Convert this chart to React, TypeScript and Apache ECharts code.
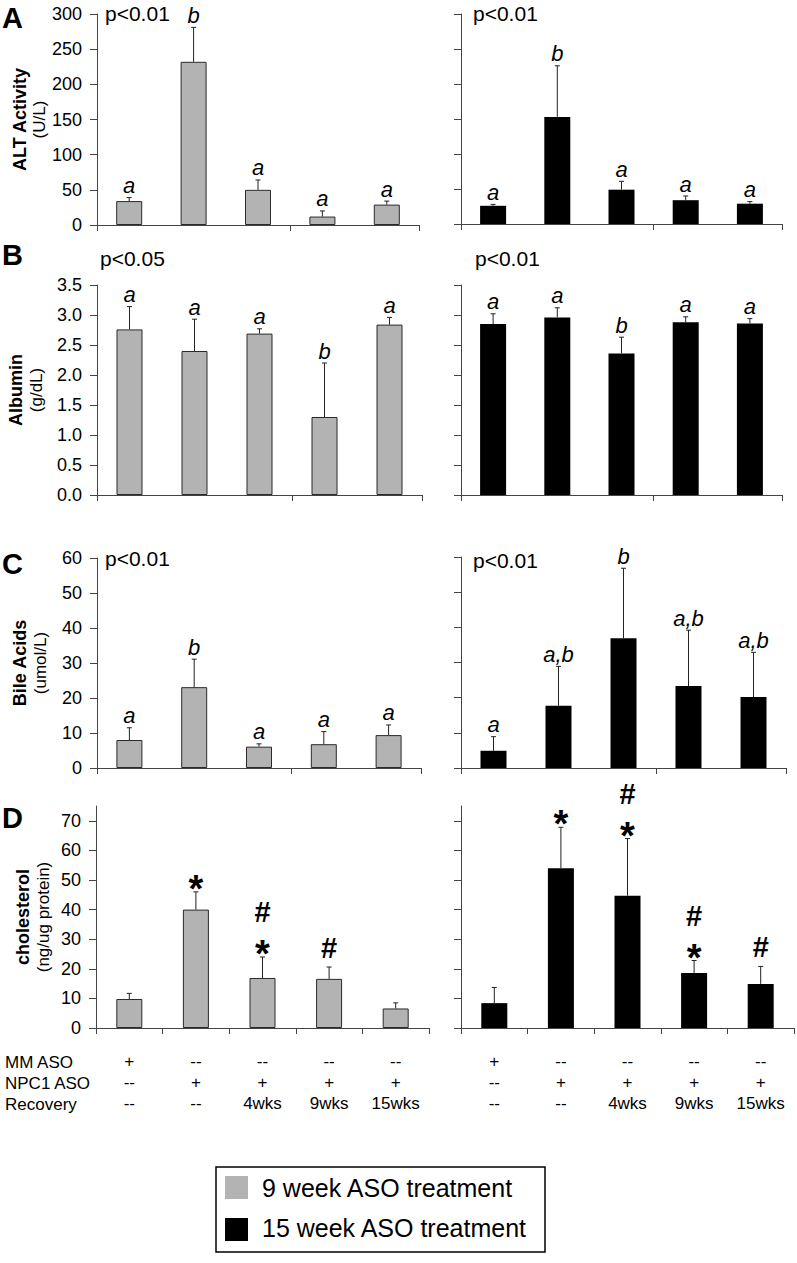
import React, { useEffect, useRef } from "react";
import * as echarts from "echarts";

const FONT = '"Liberation Sans", Arial, Helvetica, sans-serif';

// ---- categories / table rows ----
const categories = ["MM ASO", "NPC1 ASO", "NPC1 ASO + 4wks", "NPC1 ASO + 9wks", "NPC1 ASO + 15wks"];
const rowMM = ["+", "--", "--", "--", "--"];
const rowNPC1 = ["--", "+", "+", "+", "+"];
const rowRecovery = ["--", "--", "4wks", "9wks", "15wks"];
const rowHeaders = ["MM ASO", "NPC1 ASO", "Recovery"];

// ---- A: ALT activity (U/L) ----
const alt9Mean = [34, 232, 50, 12, 29];
const alt9Sd = [5, 49, 14, 8, 5];
const alt9Marks = ["a", "b", "a", "a", "a"];
const alt15Mean = [26, 153, 49, 34, 29];
const alt15Sd = [2, 73, 12, 6, 3];
const alt15Marks = ["a", "b", "a", "a", "a"];
const altTicks = [0, 50, 100, 150, 200, 250, 300];

// ---- B: Albumin (g/dL) ----
const alb9Mean = [2.76, 2.4, 2.69, 1.3, 2.84];
const alb9Sd = [0.38, 0.53, 0.08, 0.9, 0.12];
const alb9Marks = ["a", "a", "a", "b", "a"];
const alb15Mean = [2.85, 2.96, 2.36, 2.88, 2.86];
const alb15Sd = [0.17, 0.16, 0.27, 0.09, 0.08];
const alb15Marks = ["a", "a", "b", "a", "a"];
const albTicks = [0, 0.5, 1, 1.5, 2, 2.5, 3, 3.5];

// ---- C: Bile acids (umol/L) ----
const bile9Mean = [8.0, 23.1, 6.1, 6.8, 9.4];
const bile9Sd = [3.5, 8.0, 0.8, 3.6, 2.9];
const bile9Marks = ["a", "b", "a", "a", "a"];
const bile15Mean = [4.9, 17.7, 36.9, 23.3, 20.2];
const bile15Sd = [4.0, 11.2, 19.9, 15.9, 12.7];
const bile15Marks = ["a", "a,b", "b", "a,b", "a,b"];
const bileTicks = [0, 10, 20, 30, 40, 50, 60];

// ---- D: cholesterol (ng/ug protein) ----
const chol9Mean = [9.8, 40.0, 16.9, 16.6, 6.6];
const chol9Sd = [1.9, 6.0, 7.1, 4.0, 1.9];
const chol9Marks = ["", "*", "#*", "#", ""];
const chol15Mean = [8.4, 54.0, 44.7, 18.6, 14.9];
const chol15Sd = [5.3, 13.8, 19.3, 4.2, 5.9];
const chol15Marks = ["", "*", "#*", "#*", "#"];
const cholTicks = [0, 10, 20, 30, 40, 50, 60, 70];

const pValuesA = ["p<0.01", "p<0.01"];
const pValuesB = ["p<0.05", "p<0.01"];
const pValuesC = ["p<0.01", "p<0.01"];

const legendNames = ["9 week ASO treatment", "15 week ASO treatment"];

const GRAY = "#b3b3b3";
const BLACK = "#000000";

function errSeries(idx: number, mean: number[], sd: number[], marks: string[], kind: "letter" | "symbol") {
  return {
    type: "custom",
    xAxisIndex: idx,
    yAxisIndex: idx,
    z: 5,
    clip: false,
    data: mean.map((m, i) => [i, m, sd[i]]),
    encode: { x: 0, y: 1 },
    renderItem: (params: any, api: any) => {
      const i = api.value(0);
      const m = api.value(1);
      const s = api.value(2);
      const p0 = api.coord([i, m]);
      const p1 = api.coord([i, m + s]);
      const x = p0[0];
      const yb = p0[1];
      const yt = p1[1];
      const children: any[] = [
        { type: "line", shape: { x1: x, y1: yb, x2: x, y2: yt }, style: { stroke: "#222", lineWidth: 1 } },
        { type: "line", shape: { x1: x - 2.5, y1: yt, x2: x + 2.5, y2: yt }, style: { stroke: "#222", lineWidth: 1 } },
      ];
      const mk = marks[params.dataIndex];
      if (kind === "letter") {
        children.push({
          type: "text",
          style: {
            text: mk, x, y: yt - 1, align: "center", verticalAlign: "bottom",
            fontSize: 22, fontStyle: "italic", fontFamily: FONT, fill: "#000",
          },
        });
      } else {
        if (mk.includes("*")) {
          children.push({
            type: "text",
            style: {
              text: "*", x, y: yt - 3, align: "center", verticalAlign: "middle",
              fontSize: 38, lineHeight: 14, fontWeight: "bold", fontFamily: FONT, fill: "#000",
            },
          });
        }
        if (mk.includes("#")) {
          children.push({
            type: "text",
            style: {
              text: "#", x, y: mk.includes("*") ? yt - 30 : yt - 5, align: "center", verticalAlign: "bottom",
              fontSize: 29, fontWeight: "bold", fontFamily: FONT, fill: "#000",
            },
          });
        }
      }
      return { type: "group", children };
    },
  };
}

function buildOption() {
  const gridRects = [
    [97, 14, 322, 211], [461, 14, 321, 210],
    [97, 285, 325, 210], [461, 285, 321, 210],
    [97, 558, 324, 210], [461, 557, 325, 211],
    [96, 806, 333, 222], [461, 806, 333, 222],
  ];
  const yDefs = [
    { max: 300, ticks: altTicks, dec: 0, name: "{t|ALT Activity}\n{u|(U/L)}", gap: 45 },
    { max: 3.5, ticks: albTicks, dec: 1, name: "{t|Albumin}\n{u|(g/dL)}", gap: 51 },
    { max: 60, ticks: bileTicks, dec: 0, name: "{t|Bile Acids}\n{u|(umol/L)}", gap: 47 },
    { max: 75, ticks: cholTicks, dec: 0, name: "{t|cholesterol}\n{u|(ng/ug protein)}", gap: 43 },
  ];
  const axisColor = "#444";

  const grid: any[] = [];
  const xAxis: any[] = [];
  const yAxis: any[] = [];
  gridRects.forEach((r, gi) => {
    const panel = Math.floor(gi / 2);
    const isLeft = gi % 2 === 0;
    const isD = panel === 3;
    const yd = yDefs[panel];
    grid.push({ left: r[0], top: r[1], width: r[2], height: r[3], containLabel: false });
    xAxis.push({
      type: "category",
      gridIndex: gi,
      data: categories,
      boundaryGap: true,
      axisLine: { lineStyle: { color: axisColor, width: 1 } },
      axisTick: { show: true, length: 6, lineStyle: { color: axisColor } },
      axisLabel: isD
        ? {
            show: true,
            interval: 0,
            margin: 23,
            color: "#000",
            fontFamily: FONT,
            fontSize: 17,
            lineHeight: 21,
            formatter: (_v: string, i: number) => `${rowMM[i]}\n${rowNPC1[i]}\n${rowRecovery[i]}`,
          }
        : { show: false },
      splitLine: { show: false },
    });
    yAxis.push({
      type: "value",
      gridIndex: gi,
      min: 0,
      max: yd.max,
      axisLine: { show: true, lineStyle: { color: axisColor, width: 1 } },
      axisTick: { show: true, length: 7, customValues: yd.ticks, lineStyle: { color: axisColor } },
      axisLabel: {
        show: isLeft,
        customValues: yd.ticks,
        margin: 15,
        color: "#000",
        fontFamily: FONT,
        fontSize: 18,
        formatter: (v: number) => v.toFixed(yd.dec),
      },
      splitLine: { show: false },
      name: isLeft ? yd.name : "",
      nameLocation: "middle",
      nameRotate: 90,
      nameGap: yd.gap,
      nameTextStyle: {
        color: "#000",
        rich: {
          t: { fontFamily: FONT, fontWeight: "bold", fontSize: 18, lineHeight: 20, color: "#000" },
          u: { fontFamily: FONT, fontSize: 17, lineHeight: 20, color: "#000" },
        },
      },
    });
  });

  const sets = [
    [alt9Mean, alt9Sd, alt9Marks], [alt15Mean, alt15Sd, alt15Marks],
    [alb9Mean, alb9Sd, alb9Marks], [alb15Mean, alb15Sd, alb15Marks],
    [bile9Mean, bile9Sd, bile9Marks], [bile15Mean, bile15Sd, bile15Marks],
    [chol9Mean, chol9Sd, chol9Marks], [chol15Mean, chol15Sd, chol15Marks],
  ] as [number[], number[], string[]][];

  const series: any[] = [];
  sets.forEach((s, gi) => {
    const isLeft = gi % 2 === 0;
    series.push({
      type: "bar",
      name: isLeft ? legendNames[0] : legendNames[1],
      xAxisIndex: gi,
      yAxisIndex: gi,
      data: s[0],
      barWidth: 26,
      itemStyle: isLeft
        ? { color: GRAY, borderColor: "#2a2a2a", borderWidth: 1 }
        : { color: BLACK, borderColor: "#000", borderWidth: 0 },
      emphasis: { disabled: true },
      z: 2,
    });
    series.push(errSeries(gi, s[0], s[1], s[2], gi >= 6 ? "symbol" : "letter"));
  });

  const txt = (text: string, x: number, y: number, size: number, weight = "normal", align = "left") => ({
    type: "text",
    x,
    y,
    style: { text, fontSize: size, fontWeight: weight, fontFamily: FONT, fill: "#000", align, verticalAlign: "middle" },
  });

  const graphic: any[] = [
    txt("A", 2, 18, 29, "bold"),
    txt("B", 2, 255, 29, "bold"),
    txt("C", 2, 564, 29, "bold"),
    txt("D", 2, 818, 29, "bold"),
    txt(pValuesA[0], 105, 13, 21),
    txt(pValuesA[1], 473, 13, 21),
    txt(pValuesB[0], 100, 258, 21),
    txt(pValuesB[1], 475, 258, 21),
    txt(pValuesC[0], 105, 558, 21),
    txt(pValuesC[1], 473, 560, 21),
    txt(rowHeaders[0], 5, 1062, 17),
    txt(rowHeaders[1], 5, 1083, 17),
    txt(rowHeaders[2], 5, 1104, 17),
    {
      type: "rect",
      shape: { x: 216, y: 1167, width: 329, height: 85 },
      style: { fill: "#fff", stroke: "#000", lineWidth: 1.5 },
    },
    { type: "rect", shape: { x: 225, y: 1176, width: 23, height: 23 }, style: { fill: GRAY } },
    { type: "rect", shape: { x: 225, y: 1218, width: 23, height: 23 }, style: { fill: BLACK } },
    txt(legendNames[0], 262, 1188, 25),
    txt(legendNames[1], 262, 1228, 25),
  ];

  return {
    animation: false,
    backgroundColor: "#fff",
    textStyle: { fontFamily: FONT },
    grid,
    xAxis,
    yAxis,
    series,
    graphic,
  };
}

export default function App() {
  const ref = useRef<HTMLDivElement>(null);
  useEffect(() => {
    if (!ref.current) return;
    const chart = echarts.init(ref.current, null, { renderer: "svg" });
    chart.setOption(buildOption() as any);
    return () => chart.dispose();
  }, []);
  return (
    <div
      ref={ref}
      style={{ position: "absolute", left: 0, top: 0, width: 797, height: 1263, background: "#fff" }}
    />
  );
}
